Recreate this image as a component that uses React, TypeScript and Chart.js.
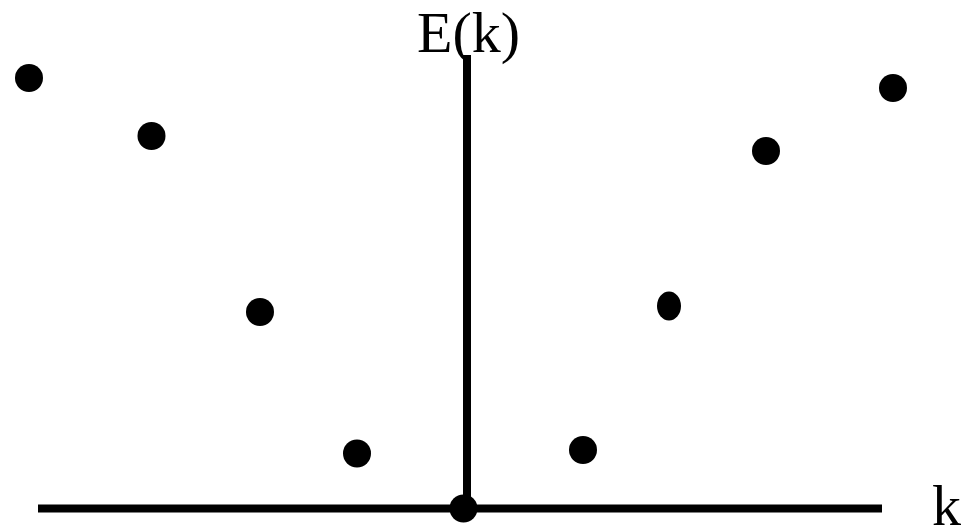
import React, { useEffect, useRef } from "react";
import { Chart, registerables } from "chart.js";

Chart.register(...registerables);

// Data (k, E(k)) in arbitrary units, origin at (0, 0)
const kValues = [-4.36, -3.135, -2.05, -1.08, -0.015, 1.18, 2.04, 3.01, 4.28];
const eValues = [4.305, 3.725, 1.965, 0.55, 0.0, 0.585, 2.025, 3.575, 4.205];

// Axis extents
const kAxisRange = [-4.27, 4.17];
const eAxisRange = [0, 4.535];
const vAxisK = 0.02;

// Labels
const eLabel = "E(k)";
const kLabel = "k";

// View window
const kMin = -4.65;
const kMax = 5.06;
const eMin = -0.215;
const eMax = 5.085;

function makeEllipse(w: number, h: number): HTMLCanvasElement {
  const c = document.createElement("canvas");
  c.width = w;
  c.height = h;
  const ctx = c.getContext("2d")!;
  ctx.fillStyle = "#000";
  ctx.beginPath();
  ctx.ellipse(w / 2, h / 2, w / 2, h / 2 - 0.5, 0, 0, Math.PI * 2);
  ctx.fill();
  return c;
}

export default function App() {
  const ref = useRef<HTMLCanvasElement | null>(null);

  useEffect(() => {
    if (!ref.current) return;
    const ellipse = makeEllipse(24, 30);
    const labelPlugin = {
      id: "axisLabels",
      afterDatasetsDraw(chart: any) {
        const { ctx, scales } = chart;
        const x = scales.x;
        const y = scales.y;
        ctx.save();
        ctx.fillStyle = "#000";
        ctx.font = '58px "Liberation Serif", "Times New Roman", serif';
        ctx.textBaseline = "alphabetic";
        ctx.textAlign = "center";
        ctx.fillText(eLabel, x.getPixelForValue(0.035), y.getPixelForValue(4.565));
        ctx.textAlign = "left";
        ctx.fillText(kLabel, x.getPixelForValue(4.67), y.getPixelForValue(-0.165));
        ctx.restore();
      },
    };

    const chart = new Chart(ref.current, {
      type: "scatter",
      data: {
        datasets: [
          {
            label: "points",
            data: kValues.map((k, i) => ({ x: k, y: eValues[i] })),
            backgroundColor: "#000",
            borderWidth: 0,
            pointRadius: 14,
            pointStyle: ((ctx: any) => (ctx.dataIndex === 6 ? ellipse : "circle")) as any,
            order: 0,
            clip: false,
          },
          {
            label: "kAxis",
            data: [
              { x: kAxisRange[0], y: 0 },
              { x: kAxisRange[1], y: 0 },
            ],
            showLine: true,
            borderColor: "#000",
            borderWidth: 8,
            pointRadius: 0,
            borderCapStyle: "butt",
            order: 1,
            clip: false,
          },
          {
            label: "eAxis",
            data: [
              { x: vAxisK, y: eAxisRange[0] },
              { x: vAxisK, y: eAxisRange[1] },
            ],
            showLine: true,
            borderColor: "#000",
            borderWidth: 8,
            pointRadius: 0,
            borderCapStyle: "butt",
            order: 1,
            clip: false,
          },
        ],
      } as any,
      options: {
        animation: false,
        responsive: false,
        devicePixelRatio: 1,
        layout: { padding: 0, autoPadding: false },
        plugins: {
          legend: { display: false },
          tooltip: { enabled: false },
        },
        scales: {
          x: { type: "linear", min: kMin, max: kMax, display: false },
          y: { type: "linear", min: eMin, max: eMax, display: false },
        },
      } as any,
      plugins: [labelPlugin],
    });
    return () => chart.destroy();
  }, []);

  return (
    <div style={{ position: "absolute", left: 0, top: 0, width: 971, height: 530, background: "#fff" }}>
      <canvas ref={ref} width={971} height={530} style={{ display: "block" }} />
    </div>
  );
}
